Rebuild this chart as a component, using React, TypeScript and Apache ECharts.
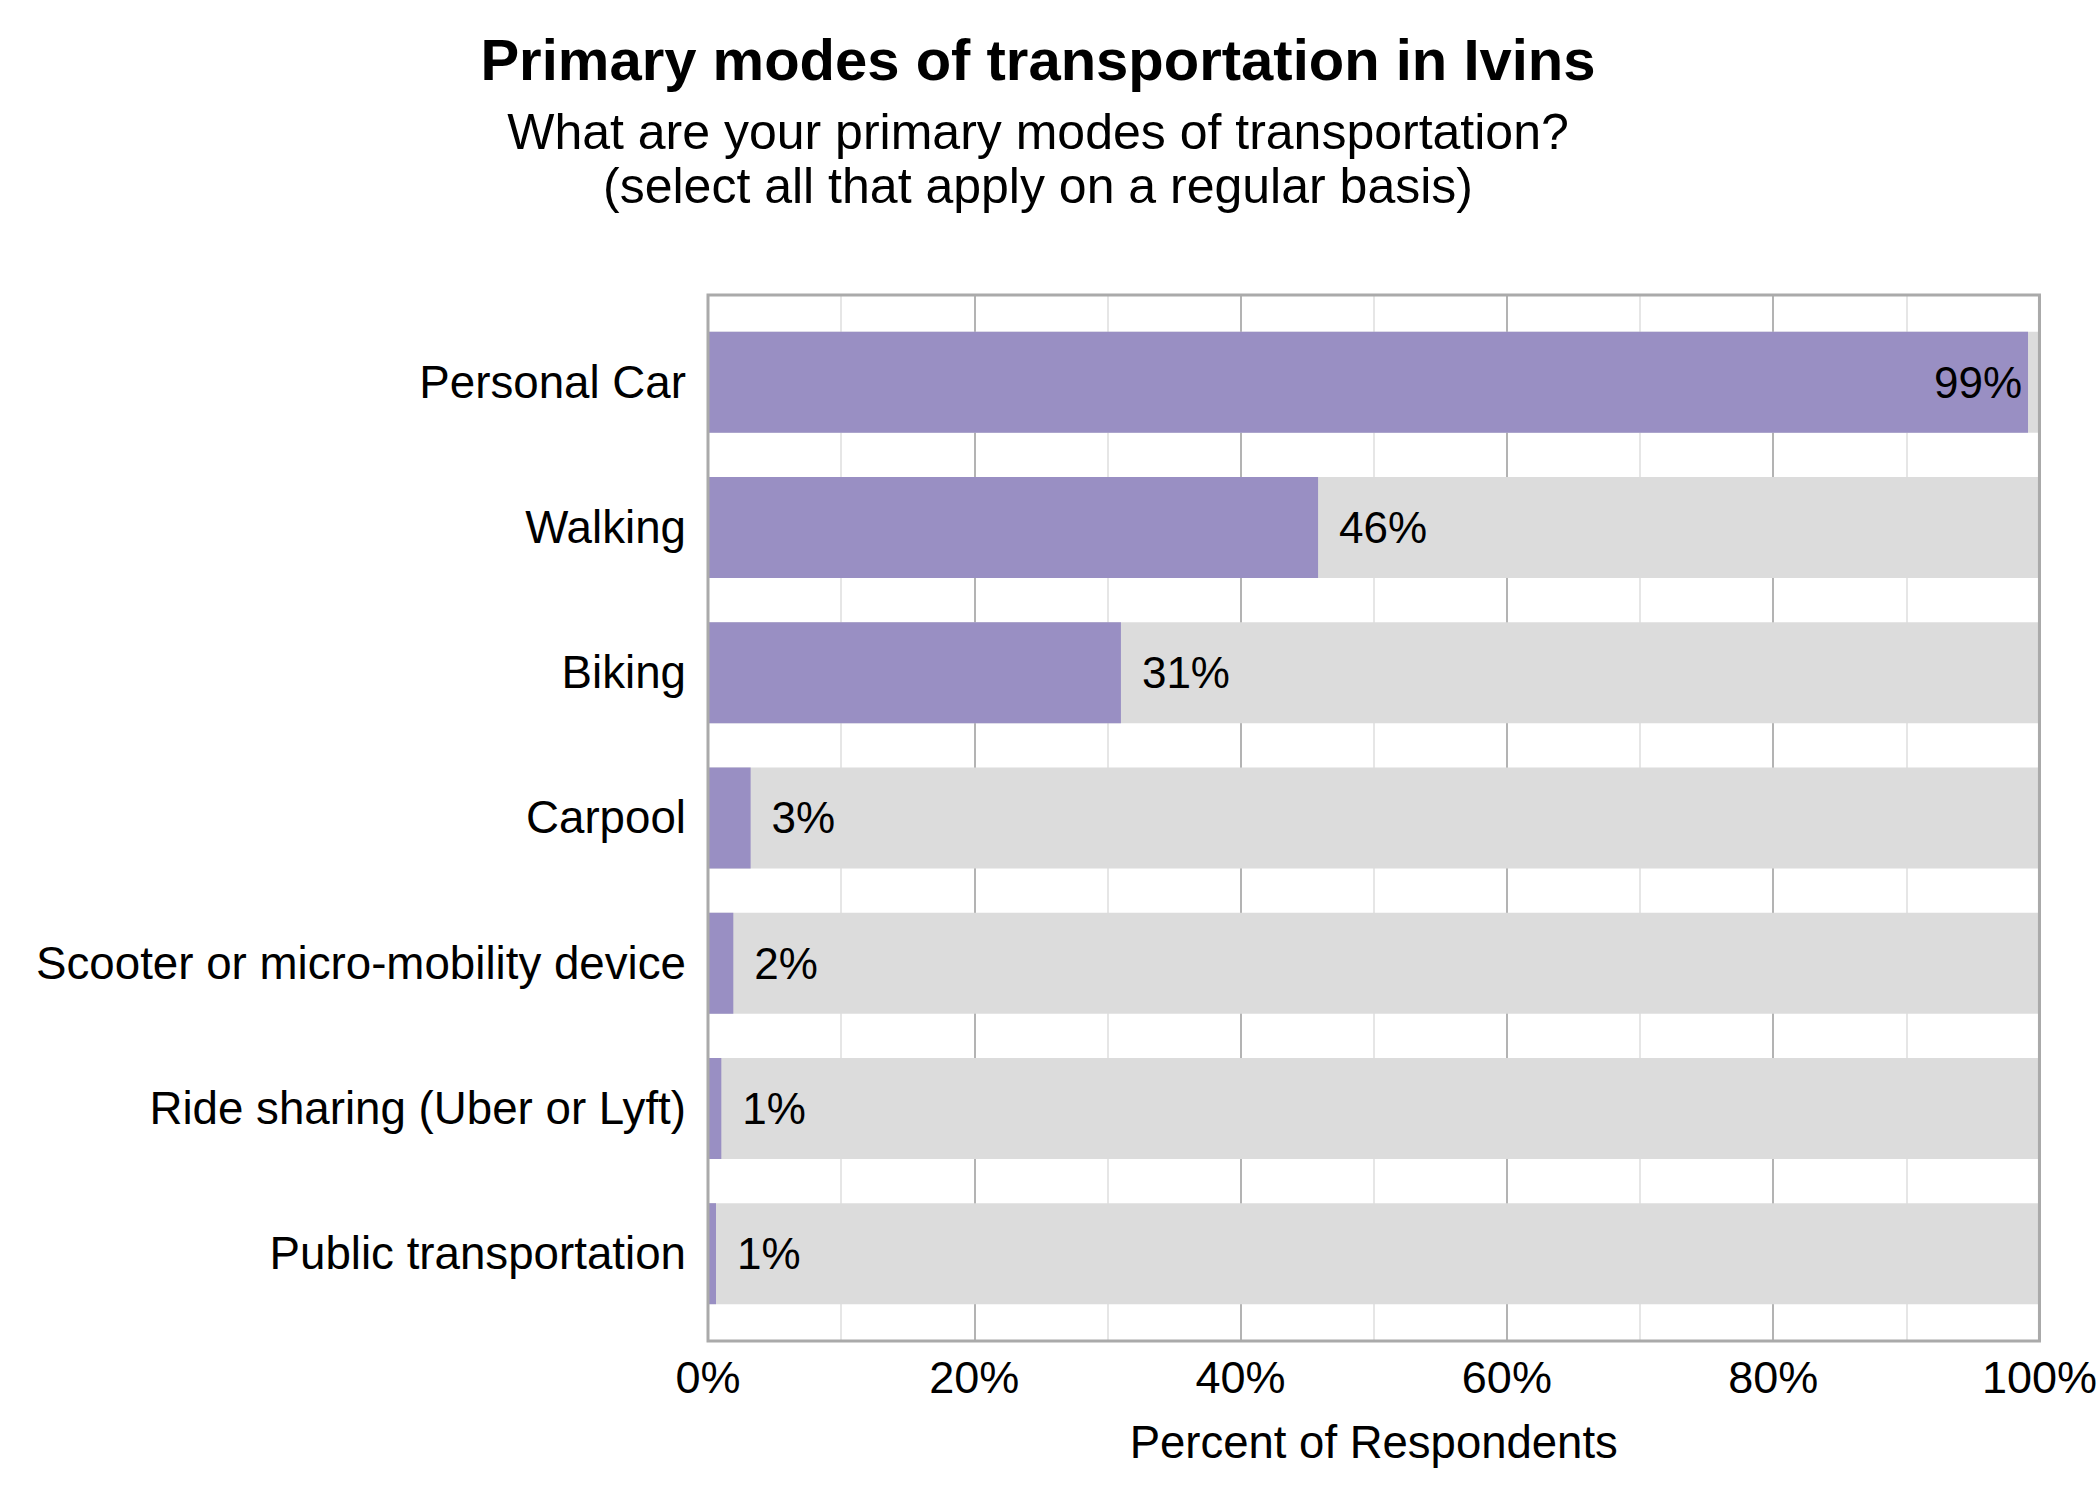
import React, { useEffect, useRef } from "react";
import * as echarts from "echarts";

// Chart data
const categories = [
  "Personal Car",
  "Walking",
  "Biking",
  "Carpool",
  "Scooter or micro-mobility device",
  "Ride sharing (Uber or Lyft)",
  "Public transportation",
];
const percents = [99.1, 45.8, 31.0, 3.2, 1.9, 1.0, 0.6];

const FONT = "'Liberation Sans', Arial, sans-serif";

const App: React.FC = () => {
  const chartRef = useRef<HTMLDivElement>(null);

  useEffect(() => {
    if (!chartRef.current) return;
    const chart = echarts.init(chartRef.current, undefined, { renderer: "svg" });

    const options = {
      animation: false,
      backgroundColor: "#ffffff",
      textStyle: { fontFamily: FONT },
      title: [
        {
          text: "Primary modes of transportation in Ivins",
          left: 1038,
          top: 30,
          textAlign: "center",
          padding: 0,
          textStyle: { fontSize: 58, fontWeight: "bold", color: "#000", lineHeight: 58, fontFamily: FONT },
        },
        {
          text: "What are your primary modes of transportation?\n(select all that apply on a regular basis)",
          left: 1038,
          top: 105,
          textAlign: "center",
          padding: 0,
          textStyle: { fontSize: 50, fontWeight: "normal", color: "#000", lineHeight: 54, fontFamily: FONT },
        },
      ],
      grid: [
        // bars (inner band area)
        { left: 708, right: 60, top: 309.6, bottom: 173.7 },
        // panel with frame and grid lines
        {
          left: 708, right: 60, top: 295, bottom: 159,
          show: true, z: 10, backgroundColor: "transparent",
          borderColor: "#aaaaaa", borderWidth: 3,
        },
      ],
      xAxis: [
        { gridIndex: 0, type: "value", min: 0, max: 100, show: false },
        {
          gridIndex: 1,
          type: "value",
          min: 0,
          max: 100,
          interval: 20,
          axisLine: { show: false },
          axisTick: { show: false },
          axisLabel: {
            fontSize: 45,
            color: "#000",
            margin: 14,
            fontFamily: FONT,
            formatter: (v: number) => `${v}%`,
          },
          splitLine: { show: true, lineStyle: { color: "#b3b3b3", width: 2 } },
          minorTick: { show: false, splitNumber: 2 },
          minorSplitLine: { show: true, lineStyle: { color: "#dedede", width: 1.5 } },
          name: "Percent of Respondents",
          nameLocation: "middle",
          nameGap: 78,
          nameTextStyle: { fontSize: 45.5, color: "#000", fontFamily: FONT },
        },
      ],
      yAxis: [
        {
          gridIndex: 0,
          type: "category",
          inverse: true,
          data: categories,
          axisLine: { show: false },
          axisTick: { show: false },
          splitLine: { show: false },
          axisLabel: { fontSize: 45.7, color: "#000", margin: 22, fontFamily: FONT },
        },
        { gridIndex: 1, type: "value", min: 0, max: 1, show: false },
      ],
      series: [
        {
          type: "bar",
          xAxisIndex: 0,
          yAxisIndex: 0,
          barWidth: 101,
          data: percents.map((v) =>
            v > 90 ? { value: v, label: { position: "insideRight", distance: 6 } } : v
          ),
          itemStyle: { color: "#998fc3" },
          showBackground: true,
          backgroundStyle: { color: "#dcdcdc" },
          label: {
            show: true,
            position: "right",
            distance: 21,
            fontSize: 44,
            color: "#000",
            fontFamily: FONT,
            formatter: (p: any) => `${Math.round(p.value)}%`,
          },
        },
      ],
    };

    chart.setOption(options);

    return () => {
      chart.dispose();
    };
  }, []);

  return (
    <div
      ref={chartRef}
      style={{ position: "absolute", left: 0, top: 0, width: 2100, height: 1500 }}
    />
  );
};

export default App;
